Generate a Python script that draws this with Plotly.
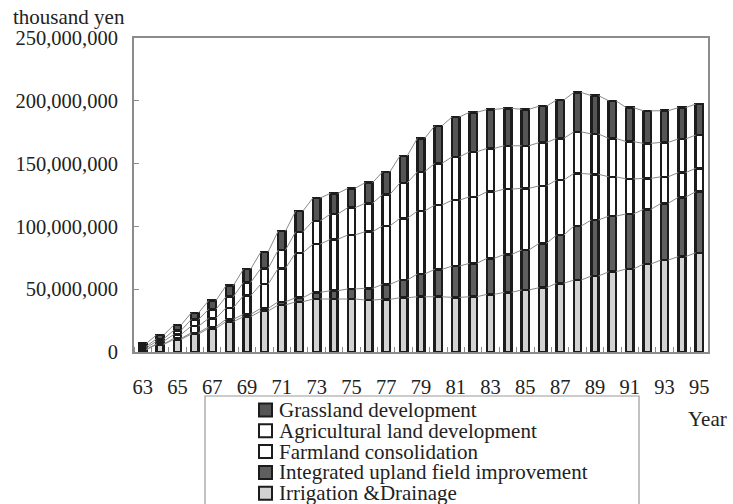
import plotly.graph_objects as go

years = list(range(63, 96))
irrigation = [1.8, 6.0, 10.0, 14.3, 18.8, 24.1, 28.1, 32.6, 37.4, 40.0, 42.2, 42.2, 42.2, 41.4, 41.9, 43.2, 44.0,
              44.0, 43.5, 44.0, 45.9, 47.5, 49.4, 51.2, 54.7, 57.3, 60.5, 63.9, 66.1, 70.0, 73.2, 75.9, 79.0]
upland = [0.3, 0.5, 0.8, 1.0, 1.3, 1.9, 1.9, 2.1, 2.6, 3.2, 5.3, 6.6, 8.0, 9.3, 11.9, 14.1, 18.1,
          21.8, 24.9, 26.6, 28.7, 30.2, 31.8, 35.3, 38.4, 43.0, 44.6, 44.3, 43.8, 43.5, 45.1, 47.3, 48.6]
farmland = [1.2, 2.0, 3.2, 5.3, 6.7, 9.2, 14.8, 19.3, 26.6, 35.8, 38.4, 40.9, 43.0, 45.1, 46.6, 49.1, 50.1,
            51.2, 52.5, 53.0, 53.0, 52.0, 49.1, 45.8, 43.8, 41.9, 36.4, 31.3, 27.9, 24.7, 21.2, 19.6, 18.6]
agricultural = [1.2, 2.0, 3.2, 5.3, 7.2, 8.8, 10.6, 12.5, 14.6, 16.7, 18.5, 20.1, 21.7, 22.6, 25.0, 28.3, 31.3,
                33.2, 34.5, 35.8, 34.5, 34.5, 33.9, 34.5, 33.2, 33.1, 32.1, 30.6, 29.7, 27.9, 27.4, 26.8, 26.5]
grassland = [2.3, 3.0, 4.3, 5.3, 6.9, 8.8, 10.6, 13.2, 15.1, 16.5, 18.3, 16.5, 15.4, 16.4, 18.0, 21.5, 26.6,
             29.9, 31.8, 31.4, 31.0, 29.8, 29.0, 28.9, 30.5, 31.4, 30.5, 29.9, 27.1, 25.9, 25.2, 24.9, 24.7]

series_names = ["Irrigation &Drainage", "Integrated upland field improvement", "Farmland consolidation",
                "Agricultural land development", "Grassland development"]
series_vals = [irrigation, upland, farmland, agricultural, grassland]
series_colors = ["#d2d2d2", "#5f5f5f", "#ffffff", "#ffffff", "#555555"]

y_ticks = [0, 50e6, 100e6, 150e6, 200e6, 250e6]
y_ticktext = ["0", "50,000,000", "100,000,000", "150,000,000", "200,000,000", "250,000,000"]
x_ticks = list(range(63, 96, 2))

FONT = "Liberation Serif"
BAR_W = 0.42
W, H = 733, 504
L, R, T, B = 134, 25, 38, 152
PW, PH = W - L - R, H - T - B

fig = go.Figure()

# series lines connecting segment tops
cum = [0.0] * len(years)
for vals in series_vals:
    cum = [c + v * 1e6 for c, v in zip(cum, vals)]
    xs, ys = [], []
    for i in range(len(years) - 1):
        xs += [years[i] + BAR_W / 2, years[i + 1] - BAR_W / 2, None]
        ys += [cum[i], cum[i + 1], None]
    fig.add_trace(go.Scatter(x=xs, y=ys, mode="lines", line=dict(color="#8a8a8a", width=1),
                             showlegend=False, hoverinfo="skip"))

for name, vals, col in zip(series_names, series_vals, series_colors):
    fig.add_trace(go.Bar(x=years, y=[v * 1e6 for v in vals], name=name, width=BAR_W,
                         marker=dict(color=col, line=dict(color="#1c1c1c", width=2.5)),
                         showlegend=False))

def px_x(p):
    return (p - L) / PW

def px_y(p):
    return (H - B - p) / PH

shapes = []
annotations = []
# legend box
shapes.append(dict(type="rect", xref="paper", yref="paper", x0=px_x(205), x1=px_x(639),
                   y0=px_y(512), y1=px_y(396), line=dict(color="#9a9a9a", width=1.2), fillcolor="white"))
legend_order = list(reversed(range(len(series_names))))
for k, idx in enumerate(legend_order):
    cy = 410 + k * 20.8
    shapes.append(dict(type="rect", xref="paper", yref="paper", x0=px_x(259), x1=px_x(272),
                       y0=px_y(cy + 6.5), y1=px_y(cy - 6.5), fillcolor=series_colors[idx],
                       line=dict(color="#1c1c1c", width=2)))
    annotations.append(dict(text=series_names[idx], xref="paper", yref="paper", x=px_x(277), y=px_y(cy),
                            xanchor="left", yanchor="middle", showarrow=False,
                            font=dict(family=FONT, size=21, color="#222")))

annotations.append(dict(text="thousand yen", xref="paper", yref="paper", x=px_x(11), y=px_y(17),
                        xanchor="left", yanchor="middle", showarrow=False,
                        font=dict(family=FONT, size=21, color="#222")))
annotations.append(dict(text="Year", xref="paper", yref="paper", x=px_x(729), y=px_y(419),
                        xanchor="right", yanchor="middle", showarrow=False,
                        font=dict(family=FONT, size=21, color="#222")))

fig.update_layout(
    width=W, height=H, margin=dict(l=L, r=R, t=T, b=B),
    barmode="stack", plot_bgcolor="white", paper_bgcolor="white",
    font=dict(family=FONT, size=20.5, color="#222"),
    shapes=shapes, annotations=annotations, showlegend=False,
    xaxis=dict(range=[62.5, 95.5], tickvals=x_ticks, ticktext=[str(v) for v in x_ticks],
               ticks="", showline=True, mirror=True, linecolor="#8c8c8c", linewidth=2,
               showgrid=False, zeroline=False, ticklabelstandoff=15,
               minor=dict(tick0=62.5, dtick=1, ticks="inside", ticklen=5, tickcolor="#8c8c8c", showgrid=False)),
    yaxis=dict(range=[0, 250e6], tickvals=y_ticks, ticktext=y_ticktext, ticks="inside", ticklen=5,
               tickcolor="#8c8c8c", showline=True, mirror=True, linecolor="#8c8c8c", linewidth=2,
               showgrid=False, zeroline=False, ticklabelstandoff=10),
)

fig.write_html("out.html")
